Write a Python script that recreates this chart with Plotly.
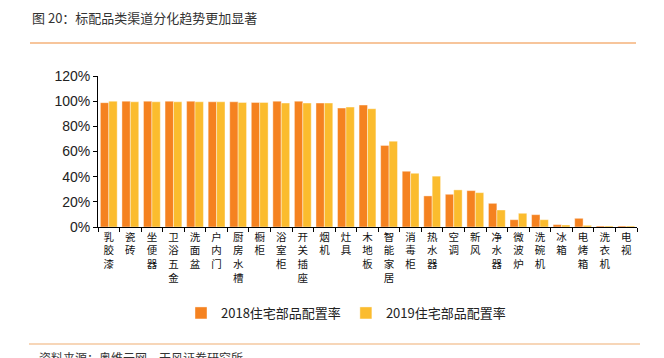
import plotly.graph_objects as go

categories = ["乳胶漆", "瓷砖", "坐便器", "卫浴五金", "洗面盆", "户内门", "厨房水槽", "橱柜", "浴室柜",
              "开关插座", "烟机", "灶具", "木地板", "智能家居", "消毒柜", "热水器", "空调", "新风",
              "净水器", "微波炉", "洗碗机", "冰箱", "电烤箱", "洗衣机", "电视"]
rate_2018 = [98.8, 100, 100, 100, 100, 99.5, 99.5, 99, 100, 100, 98.5, 94.5, 96.9, 64.8, 44.3,
             24.7, 26, 28.9, 18.8, 5.8, 9.8, 1.9, 6.9, 0.8, 0.8]
rate_2019 = [100, 99.5, 99.5, 99.5, 99.5, 99.5, 99, 99, 98.5, 98.5, 98.5, 95.3, 94, 68.2, 42.7,
             40.4, 29.5, 27.3, 13.5, 10.9, 5.8, 1.6, 1.3, 0.8, 0.8]
y_ticks = [0, 20, 40, 60, 80, 100, 120]
series_names = ["2018住宅部品配置率", "2019住宅部品配置率"]

L, R, T, B = 98, 27, 76, 131
W, H = 664, 358
pw, ph = W - L - R, H - T - B

def px(x):
    return (x - L) / pw

def py(y):
    return (H - B - y) / ph

vert = ["<br>".join(list(c)) for c in categories]

fig = go.Figure()
fig.add_trace(go.Bar(x=categories, y=rate_2018, name=series_names[0],
                     marker=dict(color="#F58220", line=dict(color="rgba(255,255,255,0.5)", width=0.8))))
fig.add_trace(go.Bar(x=categories, y=rate_2019, name=series_names[1],
                     marker=dict(color="#FBBC2E", line=dict(color="rgba(255,255,255,0.5)", width=0.8))))

fig.update_layout(
    width=W, height=H,
    margin=dict(l=L, r=R, t=T, b=B, autoexpand=False),
    paper_bgcolor="white", plot_bgcolor="white",
    barmode="group", bargap=0.22, bargroupgap=0.0,
    showlegend=True,
    legend=dict(orientation="h", x=px(346), xanchor="center", y=py(313), yanchor="middle",
                font=dict(family="Noto Sans CJK SC", size=13, color="#222"),
                itemwidth=30, tracegroupgap=0, bgcolor="rgba(0,0,0,0)"),
    xaxis=dict(tickmode="array", tickvals=categories, ticktext=vert, automargin=False,
               tickangle=0, ticks="outside", tickson="boundaries", ticklen=4,
               tickcolor="#000", showline=True, linecolor="#000", linewidth=1,
               tickfont=dict(family="Noto Sans CJK SC", size=10.5, color="#111"),
               showgrid=False, range=[-0.5, len(categories) - 0.5]),
    yaxis=dict(range=[0, 120], tickvals=y_ticks, ticktext=[f"{v}%" for v in y_ticks],
               automargin=False,
               ticks="outside", ticklen=4, tickcolor="#000", showline=True,
               linecolor="#000", linewidth=1, showgrid=False, zeroline=False,
               tickfont=dict(family="Liberation Sans, Arial", size=14, color="#222")),
    shapes=[
        dict(type="line", xref="paper", yref="paper", x0=px(30), x1=px(636), y0=py(43), y1=py(43),
             line=dict(color="#F5B27A", width=1.5)),
        dict(type="line", xref="paper", yref="paper", x0=px(29), x1=px(640), y0=py(344), y1=py(344),
             line=dict(color="#F5C9A0", width=1.5)),
    ],
    annotations=[
        dict(text="图 20：标配品类渠道分化趋势更加显著", xref="paper", yref="paper",
             x=px(30), y=py(17), xanchor="left", yanchor="middle", showarrow=False,
             font=dict(family="Noto Sans CJK SC", size=13, color="#333")),
        dict(text="资料来源：奥维云网，天风证券研究所", xref="paper", yref="paper",
             x=px(37), y=py(347), xanchor="left", yanchor="top", showarrow=False,
             font=dict(family="Noto Sans CJK SC", size=12, color="#333")),
    ],
)

fig.write_html("out.html", post_script="document.body.style.margin='0';",
               config={"displayModeBar": False})
